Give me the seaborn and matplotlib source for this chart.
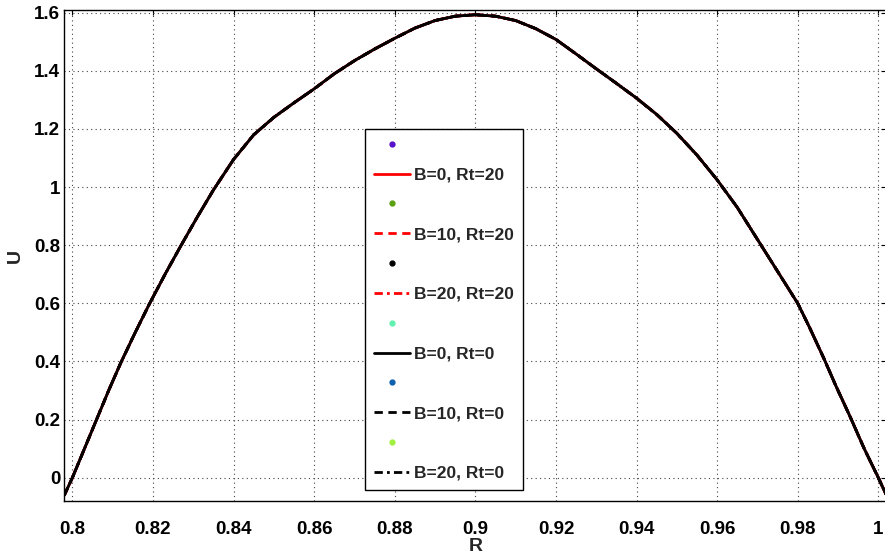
import numpy as np
import pandas as pd
import matplotlib
matplotlib.use("Agg")
import matplotlib.pyplot as plt
import seaborn as sns
from matplotlib.lines import Line2D

# ---- data ----
r_vals = [0.798, 0.800, 0.803, 0.806, 0.809, 0.812, 0.8155, 0.819, 0.823, 0.827,
          0.831, 0.835, 0.840, 0.845, 0.850, 0.855, 0.860, 0.865, 0.870, 0.875,
          0.880, 0.885, 0.890, 0.895, 0.900, 0.905, 0.910, 0.915, 0.920, 0.925,
          0.930, 0.935, 0.940, 0.945, 0.950, 0.955, 0.960, 0.965, 0.970, 0.975,
          0.980, 0.983, 0.9865, 0.9895, 0.993, 0.9965, 1.000, 1.002]
u_B0_Rt20 = [-0.06, 0.0, 0.10, 0.20, 0.30, 0.395, 0.497, 0.595, 0.70, 0.80,
             0.897, 0.99, 1.095, 1.18, 1.24, 1.29, 1.338, 1.39, 1.435, 1.475,
             1.512, 1.547, 1.573, 1.588, 1.593, 1.588, 1.573, 1.545, 1.508, 1.458,
             1.407, 1.357, 1.306, 1.25, 1.185, 1.11, 1.025, 0.93, 0.82, 0.71,
             0.60, 0.515, 0.41, 0.315, 0.21, 0.10, 0.0, -0.06]
u_B10_Rt20 = list(u_B0_Rt20)
u_B20_Rt20 = list(u_B0_Rt20)
u_B0_Rt0 = list(u_B0_Rt20)
u_B10_Rt0 = list(u_B0_Rt20)
u_B20_Rt0 = list(u_B0_Rt20)

line_labels = ["B=0, Rt=20", "B=10, Rt=20", "B=20, Rt=20",
               "B=0, Rt=0", "B=10, Rt=0", "B=20, Rt=0"]
dot_colors = ["#5a10c8", "#5aa010", "#000000", "#60f0b0", "#1060b0", "#a0f040"]

xticks = [0.80, 0.82, 0.84, 0.86, 0.88, 0.90, 0.92, 0.94, 0.96, 0.98, 1.00]
xtick_labels = ["0.8", "0.82", "0.84", "0.86", "0.88", "0.9", "0.92", "0.94", "0.96", "0.98", "1"]
yticks = [0, 0.2, 0.4, 0.6, 0.8, 1.0, 1.2, 1.4, 1.6]
ytick_labels = ["0", "0.2", "0.4", "0.6", "0.8", "1", "1.2", "1.4", "1.6"]

# ---- style ----
sns.set_theme(style="white")
plt.rcParams['font.family'] = ['Liberation Sans', 'DejaVu Sans']
plt.rcParams['font.weight'] = 'bold'
plt.rcParams['axes.labelweight'] = 'bold'

W, H = 885, 560
fig = plt.figure(figsize=(W / 100, H / 100), dpi=100)
left, right, top, bottom = 64.3, 886.4, 10.0, 501.3
ax = fig.add_axes([left / W, 1 - bottom / H, (right - left) / W, (bottom - top) / H])

series = [
    (u_B0_Rt20, "red", "-"),
    (u_B10_Rt20, "red", (0, (3, 2))),
    (u_B20_Rt20, "red", (0, (3, 1.5, 1, 1.5))),
    (u_B0_Rt0, "black", "-"),
    (u_B10_Rt0, "black", (0, (3, 2))),
    (u_B20_Rt0, "black", (0, (3, 1.5, 1, 1.5))),
]
line_handles = []
for (u, c, ls), lab in zip(series, line_labels):
    df = pd.DataFrame({"R": r_vals, "U": u})
    sns.lineplot(data=df, x="R", y="U", color=c, linestyle=ls, linewidth=2.0,
                 sort=False, estimator=None, ax=ax, legend=False)
    line_handles.append(ax.lines[-1])

ax.set_xlim(0.798, 1.002)
ax.set_ylim(-0.081, 1.6093)
ax.set_xticks(xticks)
ax.set_xticklabels(xtick_labels)
ax.set_yticks(yticks)
ax.set_yticklabels(ytick_labels)
ax.tick_params(direction="in", length=3.6, width=0.8, top=True, right=True,
               labelsize=13.5, colors="black")
ax.tick_params(axis="x", pad=14)
ax.tick_params(axis="y", pad=3)
for lbl in ax.get_xticklabels() + ax.get_yticklabels():
    lbl.set_fontweight("bold")

ax.grid(True, linestyle=(0, (1, 3)), color="#444444", linewidth=0.8)
ax.set_axisbelow(True)
for s in ax.spines.values():
    s.set_color("black")
    s.set_linewidth(1.0)
ax.set_facecolor("white")

ax.set_xlabel("R", fontsize=14, fontweight="bold", labelpad=0)
ax.set_ylabel("U", fontsize=14, fontweight="bold", labelpad=7)

# legend: dot-only entries with empty labels alternating with line entries
handles, labels = [], []
for dc, lh, lab in zip(dot_colors, line_handles, line_labels):
    handles.append(Line2D([], [], linestyle="none", marker=".", markersize=7, color=dc))
    labels.append("")
    handles.append(lh)
    labels.append(lab)

leg = fig.legend(handles, labels, loc="upper left",
                 bbox_to_anchor=(365 / W, 1 - 129 / H), bbox_transform=fig.transFigure,
                 borderaxespad=0, fancybox=False, framealpha=1, edgecolor="black",
                 prop={"size": 12.5, "weight": "bold", "family": ["Liberation Sans", "DejaVu Sans"]},
                 handlelength=2.1, handletextpad=0.22, labelspacing=0.845,
                 borderpad=0.5)
leg.get_frame().set_linewidth(1.0)

fig.savefig("out.png", dpi=100)
